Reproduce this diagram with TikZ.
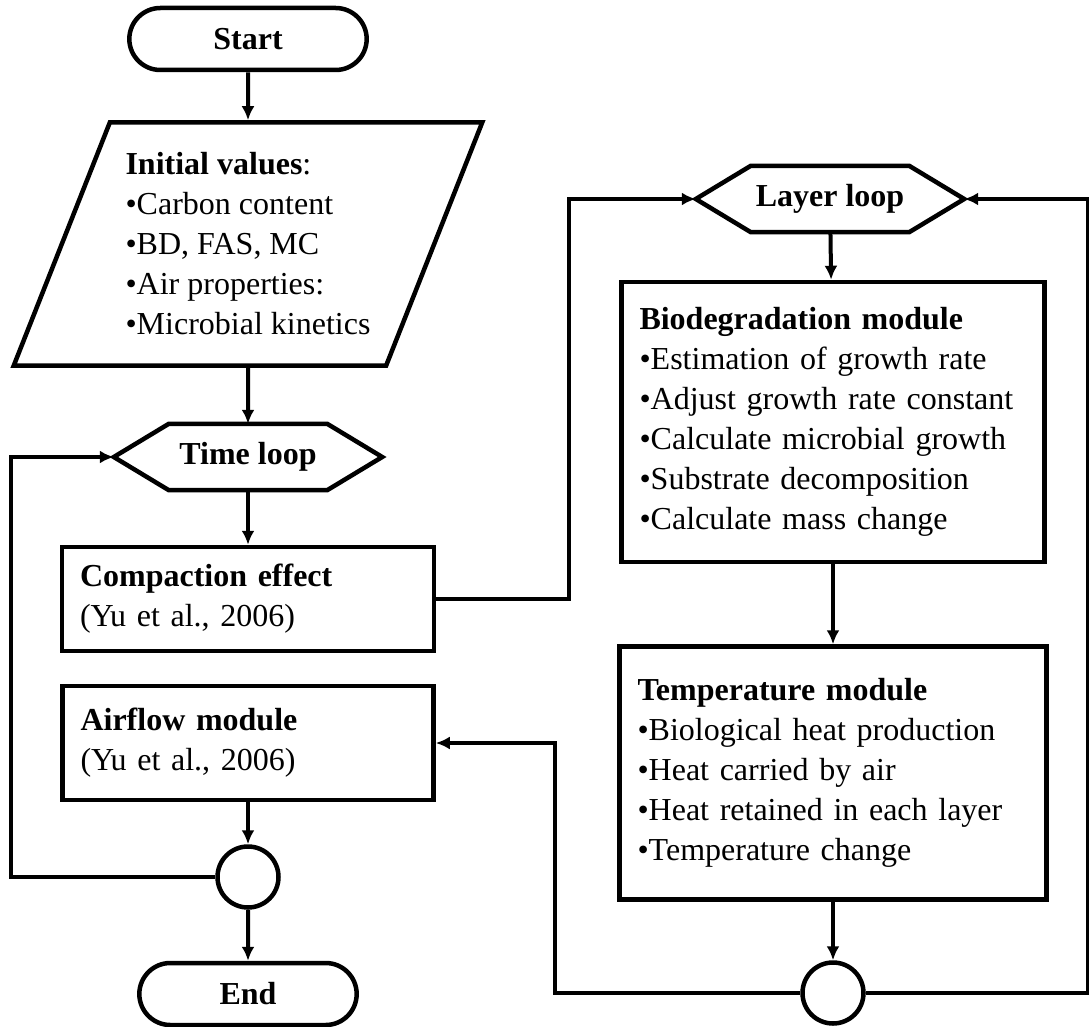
\documentclass[tikz,border=0pt]{standalone}
\usepackage{fontspec}
\setmainfont{Liberation Serif}
\usetikzlibrary{shapes.geometric,shapes.misc,arrows.meta,positioning}

\begin{document}
\begin{tikzpicture}[x=1pt,y=-1pt,on grid,
    every node/.style={font=\fontsize{32}{40}\selectfont},
    terminal/.style={draw,rounded rectangle,line width=4.5pt,minimum height=62pt,
        font=\fontsize{32}{40}\selectfont\bfseries},
    inputbox/.style={draw,trapezium,trapezium left angle=65,trapezium right angle=115,
        trapezium stretches=true,minimum width=471pt,minimum height=243pt,
        inner sep=0pt,align=left,line width=4.5pt},
    loopbox/.style={rectangle,minimum width=268pt,minimum height=66pt,inner sep=0pt,
        font=\fontsize{32}{40}\selectfont\bfseries},
    modbox/.style={draw,rectangle,text width=#1,inner xsep=18pt,inner ysep=0pt,
        align=left,line width=4.5pt},
    joint/.style={draw,circle,minimum size=61pt,inner sep=0pt,line width=4.5pt},
    flow/.style={-{Latex[length=14pt,width=13pt]},line width=4pt}]
  \useasboundingbox (0,0) rectangle (1089,1027);

  % time loop column
  \node[terminal,minimum width=244pt] (start) at (248,39) {Start};
  \node[inputbox] (init) [below=205pt of start]
    {\textbf{Initial values}:\\•Carbon content\\•BD, FAS, MC\\•Air properties:\\•Microbial kinetics};
  \node[loopbox] (timeloop) [below=213pt of init] {Time loop};
  \node[modbox=336pt,minimum height=104pt] (compact) [below=142pt of timeloop]
    {\textbf{Compaction effect}\\(Yu et al., 2006)};
  \node[modbox=335pt,minimum height=114pt] (airflow) [below=144pt of compact]
    {\textbf{Airflow module}\\(Yu et al., 2006)};
  \node[joint] (joinL) [below=134pt of airflow] {};
  \node[terminal,minimum width=224pt] (end) [below=117pt of joinL] {End};

  % layer loop column
  \node[loopbox] (layer) at (830,199) {Layer loop};
  \node[modbox=387pt,minimum height=280pt] (biodeg) [below=223pt of layer,xshift=3pt]
    {\textbf{Biodegradation module}\\•Estimation of growth rate\\•Adjust growth rate constant\\
     •Calculate microbial growth\\•Substrate decomposition\\•Calculate mass change};
  \node[modbox=391pt,minimum height=253pt] (temp) [below=351pt of biodeg]
    {\textbf{Temperature module}\\•Biological heat production\\•Heat carried by air\\
     •Heat retained in each layer\\•Temperature change};
  \node[joint] (joinR) [below=220pt of temp] {};

  % hexagon outlines of the two loops
  \foreach \n in {timeloop,layer}
    \draw[line width=4.5pt] (\n.west) -- ([xshift=55pt]\n.north west)
      -- ([xshift=-55pt]\n.north east) -- (\n.east)
      -- ([xshift=-55pt]\n.south east) -- ([xshift=55pt]\n.south west) -- cycle;

  \draw[flow] (start) -- (init);
  \draw[flow] (init) -- (timeloop);
  \draw[flow] (timeloop) -- (compact);
  \draw[flow] (airflow) -- (joinL);
  \draw[flow] (joinL) -- (end);
  \draw[flow] (layer) -- (biodeg);
  \draw[flow] (biodeg) -- (temp);
  \draw[flow] (temp) -- (joinR);

  % feedback lines
  \draw[flow] (joinL.west) -- ++(-204,0) |- (timeloop.west);
  \draw[flow] (compact.east) -- ++(133,0) |- (layer.west);
  \draw[flow] (joinR.west) -- ++(-245,0) |- (airflow.east);
  \draw[flow] (joinR.east) -- ++(222,0) |- (layer.east);
\end{tikzpicture}
\end{document}
